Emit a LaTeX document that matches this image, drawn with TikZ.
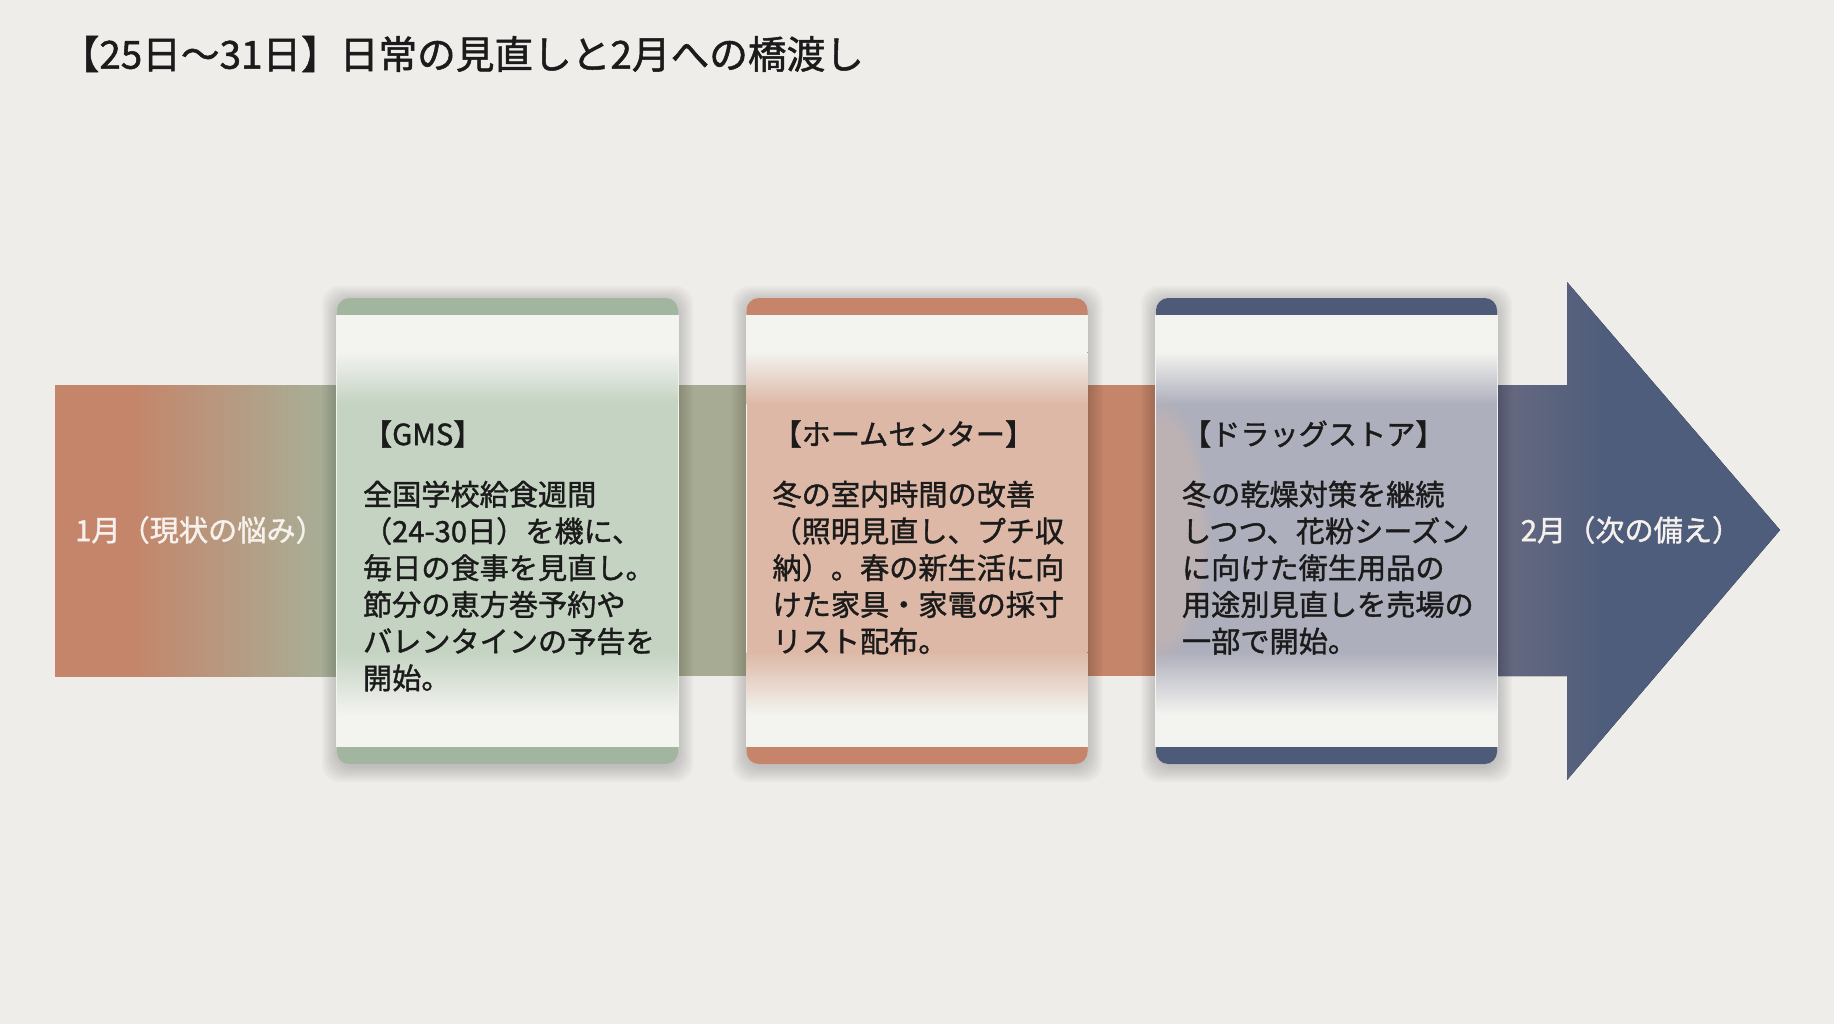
\documentclass[tikz,border=0pt]{standalone}
\usepackage{fontspec}
\newfontfamily\jpfont[FakeBold=1.3]{Noto Sans CJK JP}
\usetikzlibrary{%
  fadings%
}

\definecolor{paper}{HTML}{EEEDEA}
\definecolor{ink}{HTML}{1B1B1B}
\definecolor{labelwhite}{HTML}{F6F1EC}
\definecolor{cardwhite}{HTML}{F3F3F0}
\definecolor{sage}{HTML}{A2B59E}
\definecolor{clay}{HTML}{C6846A}
\definecolor{navy}{HTML}{4D5B78}
\definecolor{tintsage}{HTML}{C4D3C2}
\definecolor{tintclay}{HTML}{DDB8A6}
\definecolor{tintnavy}{HTML}{AEAFBC}
\definecolor{tintmix}{HTML}{C9B4AD}
\definecolor{bandclay}{HTML}{C4856A}
\definecolor{bandsage}{HTML}{A4B49D}
\definecolor{bandolive}{HTML}{A8AB93}
\definecolor{arrowgray}{HTML}{6A6B80}
\definecolor{arrownavy}{HTML}{4F5D7C}

\pgfdeclarehorizontalshading{janshade}{100bp}{color(0bp)=(bandclay); color(38bp)=(bandclay); color(75bp)=(bandsage); color(100bp)=(bandsage)}
\pgfdeclarehorizontalshading{febshade}{100bp}{color(0bp)=(arrowgray); color(25bp)=(arrowgray); color(45bp)=(arrownavy); color(100bp)=(arrownavy)}

\begin{document}
\begin{tikzpicture}
  [
  every node/.style={inner sep=0pt},
  card/.style={rectangle, rounded corners=3.5pt, minimum width=3.41cm, minimum height=4.66cm, fill=#1},
  softshadow/.style={black, opacity=0.022, rounded corners=5pt},
  heading/.style={anchor=west, text=ink, font=\jpfont\fontsize{8.3pt}{10pt}\selectfont},
  cardtext/.style={anchor=north west, align=left, text=ink, font=\jpfont\fontsize{8.3pt}{10.45pt}\selectfont},
  bandlabel/.style={text=labelwhite, font=\jpfont\fontsize{8.3pt}{10pt}\selectfont}
  ]

  \useasboundingbox (0,0) rectangle (18.34,10.24);
  \fill[paper] (0,0) rectangle (18.34,10.24);

  \node[anchor=west, text=ink, font=\jpfont\fontsize{11pt}{13pt}\selectfont] (title) at (0.60,9.70)
    {【25日～31日】日常の見直しと2月への橋渡し};

  % band and arrow
  \fill[shading=janshade] (0.55,3.48) rectangle (3.50,6.39);
  \fill[bandolive] (6.70,3.48) rectangle (7.55,6.39);
  \fill[bandclay] (10.80,3.48) rectangle (11.65,6.39);
  \fill[shading=febshade] (14.85,3.48) -- (15.67,3.48) -- (15.67,2.44) -- (17.80,4.94)
    -- (15.67,7.42) -- (15.67,6.39) -- (14.85,6.39) -- cycle;

  \node[bandlabel] (jan) at (2.00,4.94) {1月（現状の悩み）};
  \node[bandlabel] (feb) at (16.31,4.94) {2月（次の備え）};

  % cards
  \foreach \name/\accent/\tint [count=\i] in {gms/sage/tintsage, home/clay/tintclay, drug/navy/tintnavy} {
    \pgfmathsetmacro\cx{5.075+4.095*(\i-1)}
    \foreach \s in {0.01,0.03,...,0.17}
      \fill[softshadow] (\cx-1.705-\s,2.57-\s) rectangle (\cx+1.705+\s,7.23+\s);
    \node[card=\accent] (\name) at (\cx,4.93) {};
    \fill[cardwhite] ([yshift=-0.18cm]\name.north west) rectangle ([yshift=0.18cm]\name.south east);
    \fill[top color=cardwhite, bottom color=\tint] (\cx-1.705,6.72) rectangle (\cx+1.705,6.20);
    \fill[\tint] (\cx-1.705,6.20) rectangle (\cx+1.705,3.72);
    \fill[top color=\tint, bottom color=cardwhite] (\cx-1.705,3.72) rectangle (\cx+1.705,3.10);
  }

  \begin{scope}
    \clip (11.56,6.40) rectangle (14.97,3.40);
    \fill[tintmix, opacity=0.55, path fading=circle with fuzzy edge 20 percent] (11.56,4.93) ellipse (0.55 and 1.35);
  \end{scope}

  \node[heading] (gmshead) at ([xshift=0.26cm,yshift=0.97cm]gms.west) {【GMS】};
  \node[cardtext] (gmsbody) at ([xshift=0.26cm,yshift=0.51cm]gms.west)
    {全国学校給食週間\\（24-30日）を機に、\\毎日の食事を見直し。\\節分の恵方巻予約や\\バレンタインの予告を\\開始。};

  \node[heading] (homehead) at ([xshift=0.26cm,yshift=0.97cm]home.west) {【ホームセンター】};
  \node[cardtext] (homebody) at ([xshift=0.26cm,yshift=0.51cm]home.west)
    {冬の室内時間の改善\\（照明見直し、プチ収\\納）。春の新生活に向\\けた家具・家電の採寸\\リスト配布。};

  \node[heading] (drughead) at ([xshift=0.26cm,yshift=0.97cm]drug.west) {【ドラッグストア】};
  \node[cardtext] (drugbody) at ([xshift=0.26cm,yshift=0.51cm]drug.west)
    {冬の乾燥対策を継続\\しつつ、花粉シーズン\\に向けた衛生用品の\\用途別見直しを売場の\\一部で開始。};
\end{tikzpicture}
\end{document}
